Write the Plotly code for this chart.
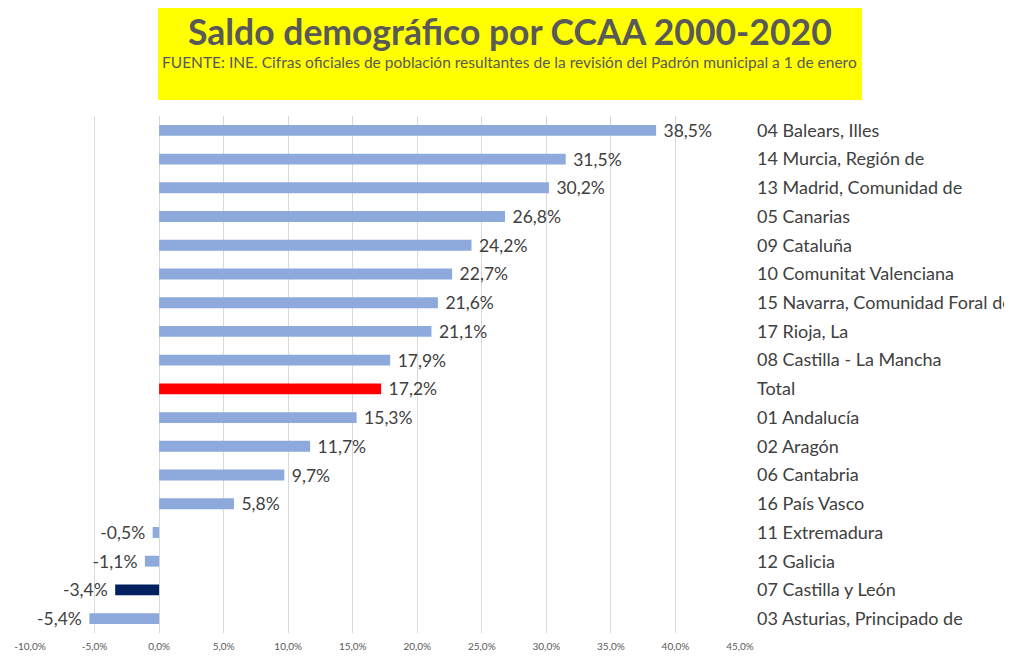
import plotly.graph_objects as go

# Datos: saldo demográfico 2000-2020 por comunidad autónoma (%)
regions = [
    "04 Balears, Illes",
    "14 Murcia, Región de",
    "13 Madrid, Comunidad de",
    "05 Canarias",
    "09 Cataluña",
    "10 Comunitat Valenciana",
    "15 Navarra, Comunidad Foral de",
    "17 Rioja, La",
    "08 Castilla - La Mancha",
    "Total",
    "01 Andalucía",
    "02 Aragón",
    "06 Cantabria",
    "16 País Vasco",
    "11 Extremadura",
    "12 Galicia",
    "07 Castilla y León",
    "03 Asturias, Principado de",
]
saldo = [38.5, 31.5, 30.2, 26.8, 24.2, 22.7, 21.6, 21.1, 17.9, 17.2,
         15.3, 11.7, 9.7, 5.8, -0.5, -1.1, -3.4, -5.4]
x_ticks = [-10, -5, 0, 5, 10, 15, 20, 25, 30, 35, 40, 45]

BLUE = "#8eaadc"
RED = "#ff0000"
NAVY = "#002060"
TEXT = "#404040"
FONT = "Lato"

colors = [RED if r == "Total" else NAVY if r == "07 Castilla y León" else BLUE
          for r in regions]


def pct(v):
    return f"{v:.1f}%".replace(".", ",")


# a little breathing room between bar end and its label
labels = [("\u00a0" + pct(v)) if v >= 0 else (pct(v) + "\u00a0") for v in saldo]

fig = go.Figure(
    go.Bar(
        x=saldo,
        y=regions,
        orientation="h",
        marker={"color": colors, "line": {"width": 0}},
        width=0.38,
        text=labels,
        textposition="outside",
        constraintext="none",
        textfont={"size": 17.5, "color": TEXT, "family": FONT},
        cliponaxis=False,
    )
)

fig.update_layout(
    width=1004,
    height=650,
    margin={"l": 22, "r": 272, "t": 108, "b": 25, "autoexpand": False},
    paper_bgcolor="white",
    plot_bgcolor="white",
    showlegend=False,
    font={"family": FONT, "color": TEXT},
    xaxis={
        "range": [-10, 45],
        "tickvals": x_ticks,
        "ticktext": [pct(t) for t in x_ticks],
        "tickfont": {"size": 10, "color": "#595959"},
        "ticklabelstandoff": 6,
        "showgrid": True,
        "gridcolor": "#d9d9d9",
        "gridwidth": 1,
        "zeroline": True,
        "zerolinecolor": "#d9d9d9",
        "zerolinewidth": 1,
        "showline": False,
        "automargin": False,
        "fixedrange": True,
    },
    yaxis={
        "categoryorder": "array",
        "categoryarray": regions[::-1],
        "side": "right",
        "tickfont": {"size": 18, "color": TEXT, "family": FONT},
        "ticklabelstandoff": 16,
        "showgrid": False,
        "showline": False,
        "automargin": False,
        "fixedrange": True,
    },
    shapes=[{
        "type": "rect",
        "xref": "paper",
        "yref": "paper",
        "x0": 0.1803,
        "x1": 1.1718,
        "y0": 1.0309,
        "y1": 1.2089,
        "fillcolor": "#ffff00",
        "line": {"width": 0},
        "layer": "below",
    }],
    annotations=[
        {
            "text": "<b>Saldo demográfico por CCAA 2000-2020</b>",
            "xref": "paper",
            "yref": "paper",
            "x": 0.676,
            "y": 1.1635,
            "xanchor": "center",
            "yanchor": "middle",
            "showarrow": False,
            "font": {"size": 35.5, "color": "#595959", "family": FONT},
        },
        {
            "text": "FUENTE: INE. Cifras oficiales de población resultantes de la revisión del Padrón municipal a 1 de enero",
            "xref": "paper",
            "yref": "paper",
            "x": 0.676,
            "y": 1.1044,
            "xanchor": "center",
            "yanchor": "middle",
            "showarrow": False,
            "font": {"size": 15.5, "color": "#595959", "family": FONT},
        },
    ],
)

fig.write_html("out.html")
